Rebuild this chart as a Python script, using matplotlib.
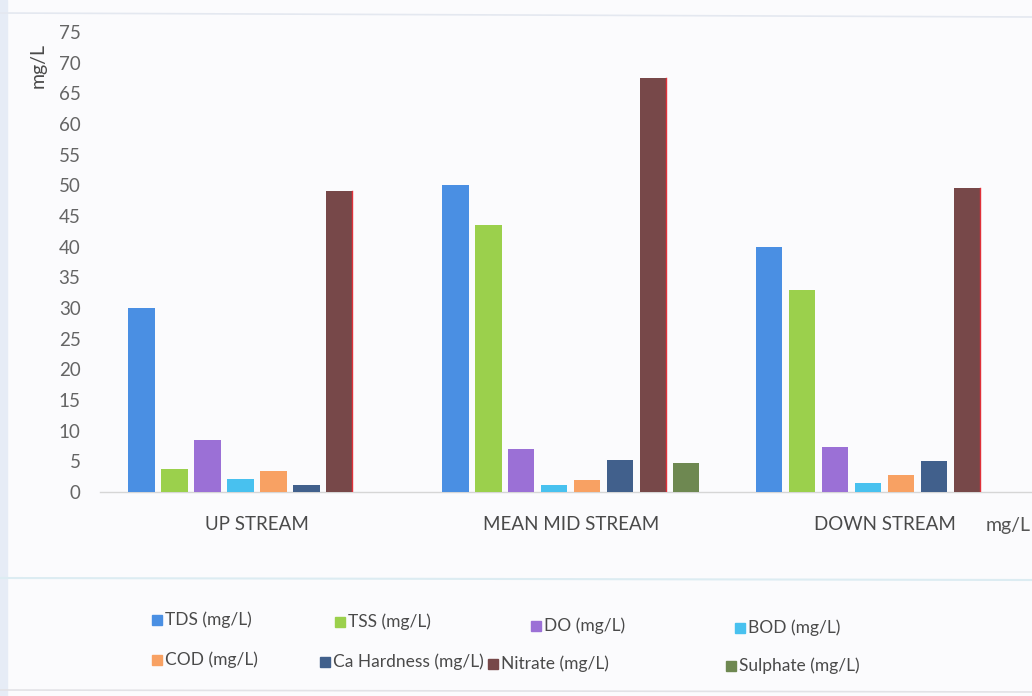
import numpy as np
import matplotlib.pyplot as plt
from matplotlib.lines import Line2D
from matplotlib.patches import Rectangle

plt.rcParams['font.family'] = ['Lato', 'DejaVu Sans']

# -------------------- dane --------------------
stations = ["UP STREAM", "MEAN MID STREAM", "DOWN STREAM"]
params = ["TDS (mg/L)", "TSS (mg/L)", "DO (mg/L)", "BOD (mg/L)",
          "COD (mg/L)", "Ca Hardness (mg/L)", "Nitrate (mg/L)", "Sulphate (mg/L)"]

tds = [30, 50, 40]
tss = [3.8, 43.5, 33]
do = [8.4, 7, 7.3]
bod = [2.1, 1.1, 1.5]
cod = [3.4, 2, 2.7]
ca_hardness = [1.2, 5.2, 5.1]
nitrate = [49, 67.5, 49.5]
sulphate = [0, 4.7, 0]

values = [tds, tss, do, bod, cod, ca_hardness, nitrate, sulphate]
colors = ["#4a8fe3", "#9bd04c", "#9b70d6", "#48c1ef",
          "#f8a163", "#41608c", "#774849", "#6e8851"]

yticks = list(range(0, 80, 5))

# -------------------- wykres --------------------
fig = plt.figure(figsize=(10.32, 6.96), dpi=100, facecolor="#fbfbfd")
ax = fig.add_axes([100 / 1032, 204 / 696, 932 / 1032, 460 / 696])
ax.set_facecolor("none")

x = np.arange(len(stations))
n = len(params)
slot = 0.84 / n
for i, (vals, col) in enumerate(zip(values, colors)):
    pos = x - 0.42 + slot * (i + 0.5)
    ax.bar(pos, vals, width=slot * 0.8, color=col, zorder=3)
    if params[i].startswith("Nitrate"):
        # czerwona krawedz po prawej stronie slupka azotanow
        for p, v in zip(pos, vals):
            ax.plot([p + slot * 0.4, p + slot * 0.4], [0, v],
                    color="#e0303a", lw=1.0, zorder=4)

ax.set_xlim(-0.5, 2.47)
ax.set_ylim(0, 75)
ax.set_yticks(yticks)
ax.set_yticklabels([str(t) for t in yticks], fontsize=13.5, color="#656565")
ax.tick_params(axis="y", length=0, pad=14)
ax.set_xticks(x)
ax.set_xticklabels(stations, fontsize=13.5, color="#4a4a4a")
ax.tick_params(axis="x", length=0, pad=17)

for s in ["top", "right", "left"]:
    ax.spines[s].set_visible(False)
ax.spines["bottom"].set_color("#d6d6d6")
ax.spines["bottom"].set_linewidth(1.0)

fig.text(38 / 1032, 1 - 65 / 696, "mg/L", rotation=90, fontsize=14,
         color="#4a4a4a", ha="center", va="center")
fig.text(1008 / 1032, 1 - 525 / 696, "mg/L", fontsize=14,
         color="#555555", ha="center", va="center")

# -------------------- legenda --------------------
legend_pos = [(152, 620), (335, 622), (531, 626), (735, 628),
              (152, 660), (320, 662), (488, 664), (726, 666)]
for (px, py), name, col in zip(legend_pos, params, colors):
    fig.add_artist(Rectangle((px / 1032, 1 - (py + 5) / 696), 10 / 1032, 10 / 696,
                             transform=fig.transFigure, color=col))
    fig.text((px + 13) / 1032, 1 - py / 696, name, fontsize=12.5,
             color="#4a4a4a", ha="left", va="center")

# linie ramki ze skanu
fig.add_artist(Line2D([0, 1], [1 - 13 / 696, 1 - 17 / 696], transform=fig.transFigure,
                      color="#e4e8f0", lw=1.2))
fig.add_artist(Line2D([0, 1], [1 - 578 / 696, 1 - 580 / 696], transform=fig.transFigure,
                      color="#dcecf2", lw=1.5))
fig.add_artist(Line2D([0, 1], [1 - 690 / 696, 1 - 692 / 696], transform=fig.transFigure,
                      color="#e2e2e6", lw=1.2))
fig.add_artist(Rectangle((0, 0), 7 / 1032, 1, transform=fig.transFigure,
                         color="#e6ecf6"))

fig.savefig("out.png", dpi=100, facecolor=fig.get_facecolor())
